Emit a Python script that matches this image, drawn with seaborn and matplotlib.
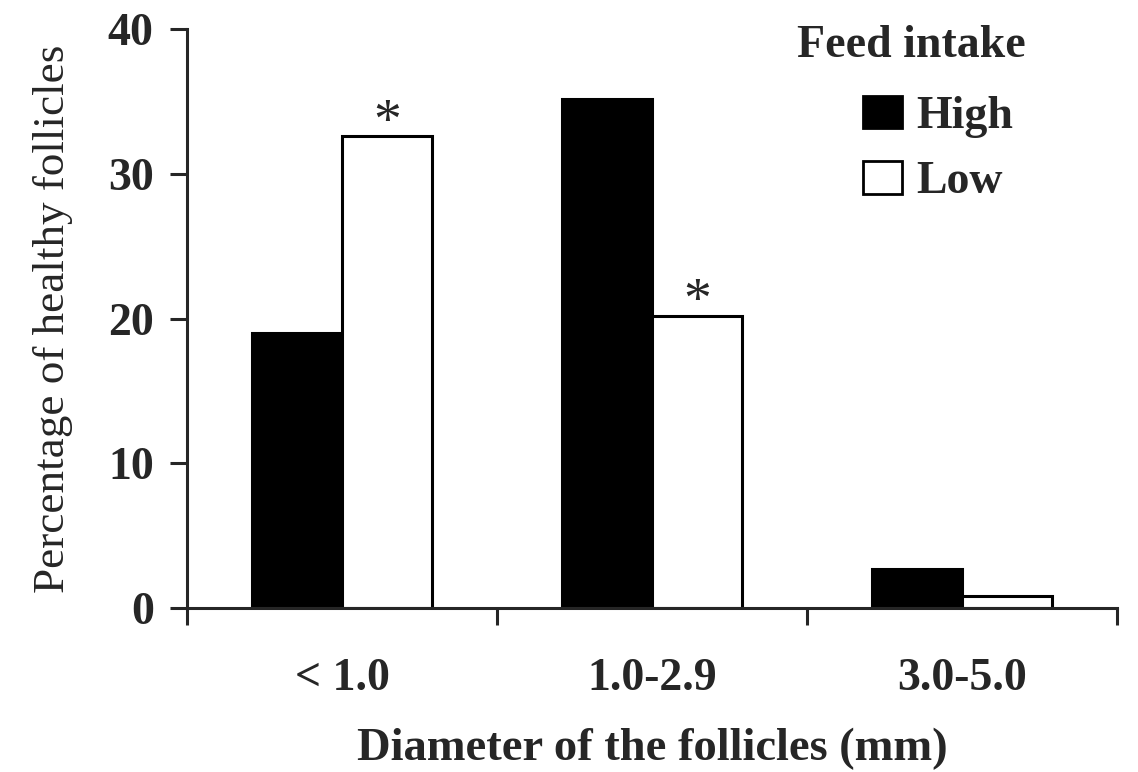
import matplotlib
matplotlib.use("Agg")
import matplotlib.pyplot as plt
from matplotlib.patches import Patch
import pandas as pd
import seaborn as sns

# values
diameters = ["< 1.0", "1.0-2.9", "3.0-5.0"]
high_intake = [19.0, 35.2, 2.7]
low_intake = [32.6, 20.2, 0.8]
low_significant = [True, True, False]
groups = ["High", "Low"]
y_ticks = [0, 10, 20, 30, 40]


def build_frame():
    rows = []
    for d, h, l in zip(diameters, high_intake, low_intake):
        rows.append({"Diameter": d, "Feed intake": "High", "Percent": h})
        rows.append({"Diameter": d, "Feed intake": "Low", "Percent": l})
    return pd.DataFrame(rows)


def main():
    sns.set_style("ticks")
    plt.rcParams["font.family"] = ["Liberation Serif", "DejaVu Serif"]

    df = build_frame()
    fig = plt.figure(figsize=(11.38, 7.72), dpi=100)
    ax = fig.add_axes([0.1643, 0.2124, 0.8172, 0.7496])

    palette = {"High": "black", "Low": "white"}
    sns.barplot(data=df, x="Diameter", y="Percent", hue="Feed intake",
                order=diameters, hue_order=groups, palette=palette,
                width=0.58, edgecolor="black", linewidth=2.2,
                legend=False, ax=ax)

    # significance stars above the low-intake bars
    low_bars = ax.containers[1]
    for bar, star in zip(low_bars, low_significant):
        if star:
            ax.text(bar.get_x() + bar.get_width() / 2, bar.get_height() - 0.1, "*",
                    ha="center", va="baseline", fontsize=40)

    ax.set_xlim(-0.5, 2.5)
    ax.set_ylim(0, 40)
    ax.set_yticks(y_ticks)
    ax.set_yticklabels([str(t) for t in y_ticks], fontsize=33, fontweight="bold")
    ax.set_xticks(range(len(diameters)))
    ax.set_xticklabels(diameters, fontsize=33, fontweight="bold")
    ax.set_xticks([-0.5, 0.5, 1.5, 2.5], minor=True)
    ax.tick_params(axis="x", which="major", length=0, pad=36)
    ax.tick_params(axis="x", which="minor", length=12, width=2.2, direction="out")
    ax.tick_params(axis="y", length=12, width=2.2, direction="out", pad=12)

    for side in ["top", "right"]:
        ax.spines[side].set_visible(False)
    for side in ["left", "bottom"]:
        ax.spines[side].set_linewidth(2.2)

    ax.set_xlabel("Diameter of the follicles (mm)", fontsize=33.5, fontweight="bold", labelpad=20)
    ax.set_ylabel("Percentage of healthy follicles", fontsize=32.5, labelpad=25)

    # legend title placed on its own so it can sit left of the entries
    ax.text(0.656, 0.952, "Feed intake", transform=ax.transAxes,
            ha="left", va="baseline", fontsize=33, fontweight="bold")
    handles = [Patch(facecolor=palette[g], edgecolor="black", linewidth=2, label=g) for g in groups]
    ax.legend(handles=handles, loc="upper left",
              bbox_to_anchor=(0.692, 0.941), frameon=False,
              prop={"size": 33, "weight": "bold"},
              handlelength=0.87, handleheight=0.72, handletextpad=0.3,
              labelspacing=0.5, borderpad=0.2)

    fig.savefig("out.png", dpi=100)


if __name__ == "__main__":
    main()
